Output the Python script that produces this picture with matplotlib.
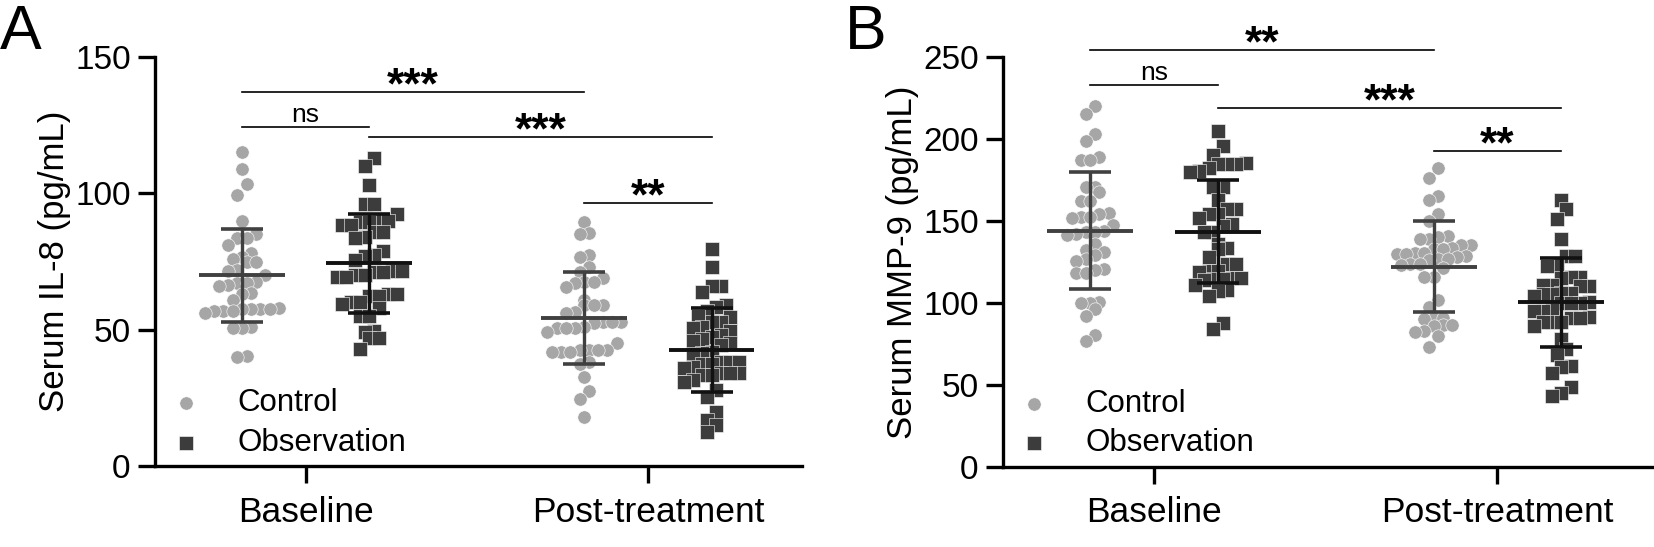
import matplotlib
matplotlib.use("Agg")
import matplotlib.pyplot as plt
import numpy as np

plt.rcParams['font.family'] = ['Liberation Sans', 'DejaVu Sans']

categories = ["Baseline", "Post-treatment"]
series = ["Control", "Observation"]

# panel A, serum IL-8 (pg/mL)
il8_ctrl_base = [115, 109, 103.5, 99.5, 90, 85, 83.5, 83.5, 81, 78, 76.5, 76, 75, 75, 72,
                 71.5, 70, 67.5, 67, 67, 66.5, 66, 63.5, 63, 61, 58, 57.5, 57.5, 57.5, 57,
                 57, 57.5, 57, 56, 51, 50.5, 50.5, 40.5, 40]
il8_obs_base = [113, 110, 103, 96, 96, 92.5, 90, 90, 89.5, 89.5, 88.5, 88.5, 86, 86, 84,
                83.5, 79, 77.5, 77, 75.5, 71.5, 71.5, 71, 71, 70, 70, 69.5, 69.5, 63, 63,
                62.5, 62.5, 60, 60, 59.5, 58, 55, 55, 49.5, 49, 47, 47, 43]
il8_ctrl_post = [89.5, 85.5, 85, 77.5, 76.5, 73, 71, 69, 67.5, 67.5, 67, 65.5, 61, 59, 59,
                 59, 56.5, 56, 53, 53, 53, 52.5, 51, 50.5, 50.5, 50.5, 49, 45, 42.5, 42.5,
                 42.5, 42.5, 42, 42, 42, 38, 37.5, 32.5, 27.5, 24.5, 18]
il8_obs_post = [79.5, 73, 66, 66, 64, 59, 58.5, 57, 55, 54.5, 53, 53, 51, 50.5, 49.5, 48,
                47.5, 46.5, 46, 45, 44.5, 42, 41.5, 41, 38, 38, 38, 37.5, 37.5, 36.5, 36,
                34, 34, 34, 33.5, 33.5, 31.5, 31, 28, 25.5, 20, 17, 15, 12.5]
il8_mean = [70, 74.3, 54.2, 42.4]
il8_sd = [17, 18, 16.8, 15.4]

# panel B, serum MMP-9 (pg/mL)
mmp9_ctrl_base = [220, 215.5, 203, 199, 189, 187, 187, 171, 170.5, 167.5, 162, 162, 155,
                  154.5, 152.5, 152.5, 152, 147.5, 144, 143.5, 143.5, 142, 141.5, 136,
                  132.5, 131, 129, 126.5, 125.5, 120.5, 120, 118.5, 118.5, 100.5, 100, 100,
                  96, 92, 80.5, 76.5]
mmp9_obs_base = [205, 196, 190, 185.5, 185, 185, 184.5, 182.5, 180.5, 180, 171, 170.5, 163,
                 157.5, 157, 154.5, 154, 152, 148, 147, 143.5, 143, 136, 133.5, 133, 128,
                 124, 124, 119.5, 119.5, 119, 115, 115, 114.5, 114.5, 114, 111, 108, 107.5,
                 104, 87.5, 84]
mmp9_ctrl_post = [182.5, 176.5, 165.5, 163, 154.5, 150, 140.5, 140, 139, 139, 135.5, 135,
                  133.5, 133, 133, 130.5, 130.5, 130, 130, 128.5, 128, 126.5, 126.5, 126,
                  123.5, 123.5, 123, 121.5, 116, 115.5, 102, 97.5, 90.5, 90.5, 90, 86.5,
                  86.5, 86, 82.5, 82, 79.5, 73]
mmp9_obs_post = [163, 157, 151, 139, 128.5, 128.5, 123, 122.5, 116, 115.5, 115, 111, 111,
                 110.5, 110.5, 106, 106, 105.5, 105.5, 104, 100.5, 100, 100, 100, 95.5, 95,
                 95, 91.5, 91, 91, 88.5, 88.5, 88, 86, 78, 72, 68, 61.5, 61, 57, 48.5, 45, 43]
mmp9_mean = [144.1, 143.3, 122.1, 100.2]
mmp9_sd = [35.5, 31.5, 27.7, 27.1]

# comparisons: (group a, group b, bar height, label); groups 0..3 = base ctrl, base obs, post ctrl, post obs
il8_sig = [(0, 2, 137.3, "***"), (0, 1, 124.4, "ns"), (1, 3, 120.5, "***"), (2, 3, 96.3, "**")]
mmp9_sig = [(0, 2, 254.4, "**"), (0, 1, 233.1, "ns"), (1, 3, 218.8, "***"), (2, 3, 192.4, "**")]

ctrl_color = "#a6a6a6"
obs_color = "#3c3c3c"
bar_colors = ["#404040", "#111111"]
markers = ["o", "s"]
point_colors = [ctrl_color, obs_color]
shift = 0.186


def swarm_offsets(vals, bin_h, step):
    vals = np.asarray(vals, dtype=float)
    order = np.argsort(vals)
    offs = np.zeros(len(vals))
    rows = []
    cur = [order[0]]
    for idx in order[1:]:
        if vals[idx] - vals[cur[0]] < bin_h:
            cur.append(idx)
        else:
            rows.append(cur)
            cur = [idx]
    rows.append(cur)
    for row in rows:
        n = len(row)
        for k, idx in enumerate(row):
            offs[idx] = (k - (n - 1) / 2) * step
    return offs


def panel(ax, groups, means, sds, sig, ymax, yticks, ylabel):
    xs = []
    for i, vals in enumerate(groups):
        cat, s = divmod(i, 2)
        x = cat + (shift if s else -shift)
        xs.append(x)
        offs = swarm_offsets(vals, ymax * 0.027, 0.027)
        ax.scatter(x + offs, vals, marker=markers[s], s=92, c=point_colors[s],
                   edgecolors="white", linewidths=0.4, zorder=2,
                   label=series[s] if cat == 0 else None)
        ax.hlines(means[i], x - 0.125, x + 0.125, colors=bar_colors[s], lw=2.8, zorder=3)
        ax.errorbar(x, means[i], yerr=sds[i], fmt="none", ecolor=bar_colors[s],
                    elinewidth=2.4, capsize=15, capthick=2.6, zorder=3)
    for a, b, h, txt in sig:
        ax.plot([xs[a], xs[b]], [h, h], color="black", lw=1.2, clip_on=False)
        if txt == "ns":
            ax.annotate(txt, ((xs[a] + xs[b]) / 2, h), xytext=(0, 3.6),
                        textcoords="offset points", ha="center", va="baseline",
                        fontsize=19, annotation_clip=False)
        else:
            ax.annotate(txt, ((xs[a] + xs[b]) / 2, h), xytext=(0, -4.5),
                        textcoords="offset points", ha="center", va="baseline",
                        fontsize=32, fontweight="bold", annotation_clip=False)
    ax.set_xlim(-0.44, 1.45)
    ax.set_ylim(0, ymax)
    ax.set_yticks(yticks)
    ax.set_xticks([0, 1])
    ax.set_xticklabels(categories)
    ax.set_ylabel(ylabel, fontsize=25, labelpad=3)
    ax.tick_params(length=12.5, width=2.4)
    ax.tick_params(axis="y", labelsize=24, pad=5)
    ax.tick_params(axis="x", labelsize=25.5, pad=9)
    for side in ["top", "right"]:
        ax.spines[side].set_visible(False)
    for side in ["left", "bottom"]:
        ax.spines[side].set_linewidth(2.4)
    ax.legend(loc="lower left", bbox_to_anchor=(0.024, 0.02), frameon=False, fontsize=22.5,
              handlelength=1.0, handletextpad=1.13, labelspacing=0.3,
              borderaxespad=0, borderpad=0, scatterpoints=1)


fig = plt.figure(figsize=(16.54, 5.47), dpi=100)
ax1 = fig.add_axes([0.0937, 0.148, 0.3912, 0.7477])
ax2 = fig.add_axes([0.6064, 0.147, 0.3924, 0.7485])

panel(ax1, [il8_ctrl_base, il8_obs_base, il8_ctrl_post, il8_obs_post], il8_mean, il8_sd,
      il8_sig, 150, [0, 50, 100, 150], "Serum IL-8 (pg/mL)")
panel(ax2, [mmp9_ctrl_base, mmp9_obs_base, mmp9_ctrl_post, mmp9_obs_post], mmp9_mean,
      mmp9_sd, mmp9_sig, 250, [0, 50, 100, 150, 200, 250], "Serum MMP-9 (pg/mL)")

fig.text(0.0, 0.995, "A", fontsize=45, va="top", ha="left")
fig.text(0.511, 0.995, "B", fontsize=45, va="top", ha="left")

fig.savefig("out.png", dpi=100)
